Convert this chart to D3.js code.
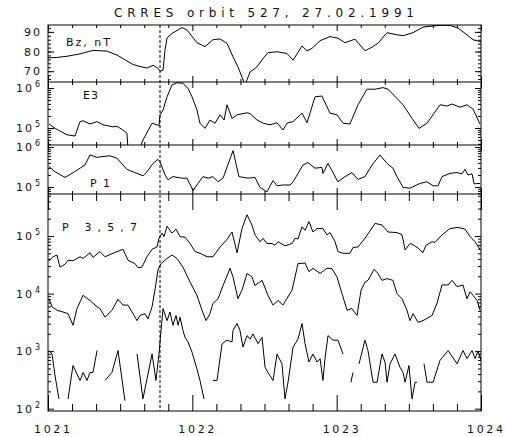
<!DOCTYPE html>
<html>
<head>
<meta charset="utf-8">
<script src="https://cdn.jsdelivr.net/npm/d3@7"></script>
<style>
body { margin: 0; background: #fff; }
text { font-family: "DejaVu Sans", sans-serif; fill: #111; }
</style>
</head>
<body>
<svg id="chart" width="507" height="437"></svg>
<script>
var titleText = "CRRES orbit 527, 27.02.1991";
var xTickLabels = [1021, 1022, 1023, 1024];
var bzTickLabels = [70, 80, 90];
var eventTime = 1021.776;

// Bz, nT
var bzTime = [1021.000, 1021.062, 1021.132, 1021.222, 1021.312, 1021.409, 1021.478, 1021.533, 1021.589, 1021.637,
    1021.686, 1021.728, 1021.762, 1021.776, 1021.797, 1021.811, 1021.825, 1021.866, 1021.928, 1021.963,
    1022.032, 1022.088, 1022.143, 1022.192, 1022.240, 1022.282, 1022.316, 1022.365, 1022.400, 1022.448,
    1022.490, 1022.524, 1022.587, 1022.656, 1022.698, 1022.760, 1022.795, 1022.829, 1022.885, 1022.954,
    1023.009, 1023.058, 1023.127, 1023.196, 1023.245, 1023.286, 1023.349, 1023.418, 1023.460, 1023.529,
    1023.598, 1023.668, 1023.716, 1023.785, 1023.841, 1023.903, 1023.945, 1024.000];
var bzValue = [76.8, 77.0, 77.6, 78.8, 80.6, 80.2, 78.2, 75.8, 73.4, 72.4,
    71.6, 73.0, 71.5, 70.0, 70.5, 81.0, 87.0, 89.5, 92.2, 91.0,
    84.5, 82.5, 86.0, 86.4, 84.2, 77.3, 72.2, 63.0, 69.6, 72.2,
    76.5, 79.4, 79.9, 79.0, 75.6, 82.8, 80.4, 81.6, 85.5, 87.6,
    86.8, 84.5, 86.3, 80.4, 82.2, 84.2, 89.6, 88.5, 88.1, 89.6,
    92.4, 93.0, 93.3, 93.3, 91.9, 88.5, 86.0, 85.0];

// E3, log10 of flux
var e3Time = [1021.007, 1021.049, 1021.132, 1021.187, 1021.222, 1021.243, 1021.291, 1021.340, 1021.381, 1021.450,
    1021.478, 1021.520, 1021.547, 1021.554, 1021.637, 1021.658, 1021.721, 1021.755, 1021.769, 1021.776,
    1021.797, 1021.825, 1021.859, 1021.894, 1021.935, 1021.970, 1021.998, 1022.032, 1022.053, 1022.088,
    1022.122, 1022.157, 1022.192, 1022.220, 1022.240, 1022.275, 1022.310, 1022.379, 1022.400, 1022.448,
    1022.490, 1022.538, 1022.587, 1022.628, 1022.656, 1022.698, 1022.760, 1022.795, 1022.850, 1022.898,
    1022.954, 1023.002, 1023.044, 1023.092, 1023.148, 1023.210, 1023.266, 1023.321, 1023.356, 1023.460,
    1023.522, 1023.571, 1023.626, 1023.716, 1023.765, 1023.799, 1023.855, 1023.903, 1023.945, 1023.993];
var e3Log = [5.10, 4.99, 4.83, 4.80, 5.16, 5.18, 5.10, 5.16, 5.08, 5.03,
    5.04, 4.95, 4.87, 4.50, 4.50, 4.70, 5.12, 5.08, 5.05, 5.33,
    5.45, 5.78, 6.08, 6.13, 6.12, 5.99, 5.78, 5.45, 5.12, 4.99,
    5.20, 5.12, 5.33, 5.20, 5.58, 5.24, 5.33, 5.38, 5.36, 5.20,
    5.12, 5.08, 5.13, 4.95, 5.12, 5.16, 5.37, 5.13, 5.78, 5.80,
    5.37, 5.33, 5.12, 5.10, 5.58, 5.97, 5.97, 6.01, 5.97, 5.58,
    5.24, 4.99, 5.12, 5.58, 5.55, 5.60, 5.52, 5.58, 5.47, 5.10];

// P1, log10
var p1Time = [1021.007, 1021.049, 1021.118, 1021.166, 1021.222, 1021.256, 1021.291, 1021.340, 1021.374, 1021.430,
    1021.478, 1021.547, 1021.617, 1021.658, 1021.686, 1021.728, 1021.762, 1021.776, 1021.811, 1021.831,
    1021.866, 1021.928, 1021.963, 1022.005, 1022.039, 1022.074, 1022.109, 1022.143, 1022.178, 1022.213,
    1022.282, 1022.323, 1022.386, 1022.434, 1022.469, 1022.517, 1022.559, 1022.587, 1022.628, 1022.677,
    1022.698, 1022.767, 1022.801, 1022.850, 1022.898, 1022.905, 1022.940, 1023.009, 1023.058, 1023.106,
    1023.148, 1023.196, 1023.245, 1023.300, 1023.349, 1023.390, 1023.418, 1023.460, 1023.508, 1023.578,
    1023.626, 1023.668, 1023.702, 1023.730, 1023.785, 1023.834, 1023.869, 1023.889, 1023.910, 1023.938,
    1023.952, 1023.993];
var p1Log = [5.51, 5.38, 5.24, 5.34, 5.47, 5.55, 5.80, 5.74, 5.76, 5.78,
    5.72, 5.44, 5.34, 5.28, 5.38, 5.59, 5.69, 5.63, 5.30, 5.18,
    5.26, 5.22, 5.22, 4.91, 5.09, 5.26, 5.22, 5.26, 5.13, 5.22,
    5.91, 5.26, 5.22, 5.24, 4.99, 4.88, 5.16, 5.03, 5.05, 5.05,
    5.13, 5.55, 5.61, 5.47, 5.49, 5.34, 5.59, 5.13, 5.26, 5.36,
    5.19, 5.26, 5.55, 5.80, 5.59, 5.47, 5.26, 4.99, 4.97, 5.09,
    5.13, 5.03, 5.03, 5.26, 5.34, 5.36, 5.33, 5.44, 5.30, 5.33,
    5.08, 5.09];

// P3, log10
var p3Time = [1021.007, 1021.035, 1021.062, 1021.083, 1021.118, 1021.139, 1021.173, 1021.222, 1021.243, 1021.291,
    1021.312, 1021.360, 1021.395, 1021.450, 1021.520, 1021.554, 1021.603, 1021.624, 1021.651, 1021.686,
    1021.721, 1021.755, 1021.769, 1021.790, 1021.804, 1021.825, 1021.859, 1021.887, 1021.915, 1021.949,
    1021.984, 1022.019, 1022.053, 1022.102, 1022.143, 1022.192, 1022.240, 1022.275, 1022.310, 1022.344,
    1022.379, 1022.413, 1022.434, 1022.469, 1022.490, 1022.517, 1022.552, 1022.573, 1022.594, 1022.642,
    1022.691, 1022.711, 1022.732, 1022.760, 1022.781, 1022.808, 1022.836, 1022.864, 1022.905, 1022.933,
    1022.954, 1022.989, 1023.009, 1023.044, 1023.092, 1023.113, 1023.148, 1023.196, 1023.266, 1023.314,
    1023.356, 1023.418, 1023.453, 1023.474, 1023.508, 1023.529, 1023.564, 1023.598, 1023.619, 1023.661,
    1023.681, 1023.730, 1023.785, 1023.841, 1023.889, 1023.924, 1023.959, 1023.993];
var p3Log = [4.57, 4.64, 4.67, 4.46, 4.51, 4.58, 4.57, 4.64, 4.61, 4.71,
    4.63, 4.73, 4.64, 4.70, 4.77, 4.58, 4.52, 4.45, 4.46, 4.64,
    4.77, 4.81, 4.96, 5.05, 4.99, 5.17, 5.05, 5.12, 4.99, 4.98,
    4.87, 4.73, 4.70, 4.64, 4.64, 4.81, 4.94, 5.07, 4.71, 5.13,
    5.37, 5.19, 5.02, 4.90, 4.96, 4.87, 4.87, 4.84, 4.90, 4.83,
    4.87, 4.96, 4.95, 5.16, 5.10, 5.25, 5.07, 5.13, 5.13, 5.02,
    5.06, 4.90, 4.73, 4.70, 4.70, 4.80, 4.81, 4.96, 5.22, 5.19,
    5.07, 5.06, 5.02, 4.76, 4.87, 4.85, 4.79, 4.71, 4.84, 4.90,
    4.89, 5.02, 5.13, 5.15, 5.12, 4.99, 4.90, 4.77];

// P5, log10
var p5Time = [1021.007, 1021.028, 1021.062, 1021.104, 1021.139, 1021.173, 1021.201, 1021.243, 1021.291, 1021.340,
    1021.360, 1021.395, 1021.443, 1021.485, 1021.520, 1021.554, 1021.582, 1021.617, 1021.637, 1021.672,
    1021.693, 1021.721, 1021.741, 1021.762, 1021.783, 1021.825, 1021.859, 1021.894, 1021.935, 1021.984,
    1022.032, 1022.067, 1022.095, 1022.122, 1022.143, 1022.178, 1022.213, 1022.261, 1022.282, 1022.316,
    1022.344, 1022.379, 1022.413, 1022.434, 1022.483, 1022.524, 1022.559, 1022.594, 1022.628, 1022.691,
    1022.725, 1022.732, 1022.781, 1022.808, 1022.836, 1022.885, 1022.933, 1022.968, 1023.002, 1023.037,
    1023.072, 1023.106, 1023.141, 1023.169, 1023.196, 1023.217, 1023.259, 1023.286, 1023.314, 1023.349,
    1023.390, 1023.418, 1023.453, 1023.487, 1023.508, 1023.529, 1023.564, 1023.598, 1023.661, 1023.695,
    1023.730, 1023.772, 1023.799, 1023.834, 1023.875, 1023.903, 1023.924, 1023.945, 1023.973, 1023.993];
var p5Log = [3.91, 3.77, 3.71, 3.68, 3.65, 3.45, 3.74, 3.97, 3.88, 3.77,
    3.74, 3.59, 3.71, 3.90, 3.80, 3.80, 3.68, 3.53, 3.62, 3.65,
    3.56, 3.77, 4.06, 4.41, 4.52, 4.61, 4.67, 4.61, 4.46, 4.20,
    3.97, 3.71, 3.53, 3.65, 3.83, 3.91, 4.14, 4.44, 4.29, 3.91,
    4.06, 4.35, 4.29, 4.14, 4.23, 3.97, 3.80, 3.88, 3.80, 4.06,
    4.44, 4.52, 4.53, 4.38, 4.44, 4.35, 4.44, 4.43, 4.29, 4.00,
    3.71, 3.74, 3.62, 4.06, 4.20, 4.23, 4.42, 4.35, 4.23, 4.26,
    4.23, 4.00, 3.91, 3.71, 3.53, 3.65, 3.50, 3.53, 3.62, 3.83,
    4.15, 4.15, 4.23, 4.12, 4.15, 3.91, 4.03, 3.97, 3.88, 3.71];

// P7, log10 (null = no data, line breaks there)
var p7Time = [1021.007, 1021.028, 1021.049, 1021.076, 1021.100,
    1021.139, 1021.173, 1021.222, 1021.243, 1021.270, 1021.291, 1021.312, 1021.340, 1021.370,
    1021.395, 1021.443, 1021.485, 1021.533, 1021.580,
    1021.617, 1021.658, 1021.686, 1021.721, 1021.748, 1021.769, 1021.783, 1021.797, 1021.825, 1021.845,
    1021.866, 1021.887, 1021.901, 1021.915, 1021.935, 1021.949, 1021.970, 1021.998, 1022.032, 1022.053,
    1022.081, 1022.110,
    1022.143, 1022.171, 1022.206, 1022.240, 1022.275, 1022.282, 1022.310, 1022.330, 1022.351, 1022.379,
    1022.400, 1022.420, 1022.455, 1022.483, 1022.504, 1022.524, 1022.559, 1022.587, 1022.621, 1022.642,
    1022.663, 1022.698, 1022.732, 1022.760, 1022.781, 1022.808, 1022.836, 1022.864, 1022.885, 1022.905,
    1022.919, 1022.940, 1022.975, 1023.009, 1023.044, 1023.070,
    1023.099, 1023.113, 1023.130,
    1023.155, 1023.196, 1023.217, 1023.252, 1023.280, 1023.314, 1023.335, 1023.349, 1023.370, 1023.404,
    1023.439, 1023.460, 1023.474, 1023.501, 1023.522, 1023.543, 1023.557, 1023.580,
    1023.605, 1023.626, 1023.668, 1023.716, 1023.772, 1023.834, 1023.875, 1023.903, 1023.938, 1023.959,
    1023.979, 1024.000];
var p7Log = [3.01, 2.95, 2.57, 2.17, null,
    2.17, 2.75, 2.49, 2.63, 2.49, 2.63, 2.63, 3.01, null,
    2.49, 2.63, 3.01, 2.14, null,
    2.95, 2.17, 2.52, 2.95, 2.49, 2.95, 3.36, 3.74, 3.53, 3.68,
    3.45, 3.62, 3.45, 3.59, 3.36, 3.24, 3.16, 2.98, 2.69, 2.49,
    2.17, null,
    2.49, 2.49, 3.13, 3.19, 3.16, 3.36, 3.48, 3.36, 3.07, 3.27,
    3.21, 3.30, 3.13, 3.24, 2.72, 2.63, 2.49, 2.95, 2.78, 2.17,
    2.46, 3.07, 3.21, 3.48, 3.13, 2.81, 2.95, 2.81, 2.87, 2.49,
    2.87, 3.27, 3.19, 3.19, 2.95, null,
    2.46, 2.63, null,
    2.78, 3.19, 3.01, 2.46, 2.46, 2.95, 2.81, 2.46, 2.78, 2.95,
    2.72, 2.63, 2.46, 2.75, 2.17, 2.46, 2.46, null,
    2.78, 2.46, 2.46, 2.84, 3.01, 2.78, 3.01, 2.87, 3.01, 2.87,
    3.00, 2.84];

function zip(t, v) {
    return t.map(function (d, i) { return [d, v[i]]; });
}

var svg = d3.select("#chart");
var x = d3.scaleLinear().domain([1021, 1024]).range([48, 481]);

var panels = [
    {top: 25, bottom: 82, log: false, y: d3.scaleLinear().domain([64.5, 93.5]),
        series: [zip(bzTime, bzValue)], major: bzTickLabels, minor: d3.range(66, 94, 2),
        name: "Bz, nT", nameX: 66, nameY: 46, nameW: 44, xTick: [3, 6]},
    {top: 82, bottom: 145, log: true, y: d3.scaleLog().domain([Math.pow(10, 4.575), Math.pow(10, 6.15)]),
        series: [zip(e3Time, e3Log)], exps: [5, 6],
        name: "E3", nameX: 83, nameY: 99, nameW: 15, xTick: [3, 6]},
    {top: 145, bottom: 194, log: true, y: d3.scaleLog().domain([Math.pow(10, 4.825), Math.pow(10, 6.05)]),
        series: [zip(p1Time, p1Log)], exps: [5, 6],
        name: "P1", nameX: 90, nameY: 187, nameW: 20, xTick: [3, 6]},
    {top: 194, bottom: 411, log: true, y: d3.scaleLog().domain([Math.pow(10, 1.96), Math.pow(10, 5.73)]),
        series: [zip(p3Time, p3Log), zip(p5Time, p5Log), zip(p7Time, p7Log)], exps: [2, 3, 4, 5],
        name: "P 3,5,7", nameX: 62, nameY: 231, nameW: 75, xTick: [7, 16]}
];

var xMinor = d3.range(0, 19).map(function (k) { return 1021 + k / 6; })
    .filter(function (d) { return Math.abs(d - Math.round(d)) > 1e-6; });

panels.forEach(function (p, i) {
    p.y.range([p.bottom, p.top]);
    if (p.log) {
        p.major = p.exps.map(function (e) { return Math.pow(10, e); });
        var dom = p.y.domain();
        p.minor = [];
        for (var e = Math.floor(Math.log10(dom[0])); e <= Math.ceil(Math.log10(dom[1])); e++) {
            for (var m = 2; m <= 9; m++) {
                var v = m * Math.pow(10, e);
                if (v >= dom[0] && v <= dom[1]) p.minor.push(v);
            }
        }
    }

    svg.append("clipPath").attr("id", "clip" + i)
        .append("rect")
        .attr("x", 48).attr("y", p.top)
        .attr("width", 433).attr("height", p.bottom - p.top);

    var line = d3.line()
        .defined(function (d) { return d[1] != null; })
        .x(function (d) { return x(d[0]); })
        .y(function (d) { return p.y(p.log ? Math.pow(10, d[1]) : d[1]); });

    svg.append("g").attr("clip-path", "url(#clip" + i + ")")
        .selectAll("path")
        .data(p.series)
        .enter().append("path")
        .attr("d", line)
        .style("fill", "none")
        .style("stroke", "#000")
        .style("stroke-width", 1);

    // y ticks, inward on both sides
    [[48, d3.axisRight], [481, d3.axisLeft]].forEach(function (side) {
        [[p.major, 6], [p.minor, 3]].forEach(function (t) {
            var g = svg.append("g")
                .attr("transform", "translate(" + side[0] + ",0)")
                .call(side[1](p.y).tickValues(t[0]).tickSize(t[1]).tickFormat(""));
            g.select(".domain").remove();
        });
    });

    // x ticks at top (pointing down) and bottom (pointing up)
    [[p.top, d3.axisBottom], [p.bottom, d3.axisTop]].forEach(function (side) {
        [[xTickLabels, p.xTick[1]], [xMinor, p.xTick[0]]].forEach(function (t) {
            var g = svg.append("g")
                .attr("transform", "translate(0," + side[0] + ")")
                .call(side[1](x).tickValues(t[0]).tickSize(t[1]).tickFormat(""));
            g.select(".domain").remove();
        });
    });

    // y labels
    var lab = svg.append("g").selectAll("text")
        .data(p.major)
        .enter().append("text")
        .attr("x", 40)
        .attr("y", function (d) { return p.y(d) + 4; })
        .attr("text-anchor", "end")
        .style("font-size", "11px");
    if (p.log) {
        lab.append("tspan")
            .attr("textLength", 16)
            .text("10");
        lab.append("tspan")
            .attr("dx", 1)
            .attr("dy", -5)
            .style("font-size", "8px")
            .text(function (d) { return Math.round(Math.log10(d)); });
    } else {
        lab.attr("textLength", 16).text(function (d) { return d; });
    }

    svg.append("text")
        .attr("x", p.nameX)
        .attr("y", p.nameY)
        .attr("textLength", p.nameW)
        .style("font-size", "11px")
        .text(p.name);
});

// frame
svg.append("rect")
    .attr("x", 48).attr("y", 25)
    .attr("width", 433).attr("height", 386)
    .style("fill", "none").style("stroke", "#000");
panels.slice(1).forEach(function (p) {
    svg.append("line")
        .attr("x1", 48).attr("x2", 481)
        .attr("y1", p.top).attr("y2", p.top)
        .style("stroke", "#000");
});

// event marker
svg.append("line")
    .attr("x1", x(eventTime)).attr("x2", x(eventTime))
    .attr("y1", 25).attr("y2", 411)
    .style("stroke", "#000")
    .style("stroke-dasharray", "3,2");

// x labels
svg.append("g").selectAll("text")
    .data(xTickLabels)
    .enter().append("text")
    .attr("x", function (d) { return x(d) + 4; })
    .attr("y", 433)
    .attr("text-anchor", "middle")
    .attr("textLength", 36)
    .style("font-size", "11px")
    .text(function (d) { return d; });

svg.append("text")
    .attr("x", 264)
    .attr("y", 17)
    .attr("text-anchor", "middle")
    .attr("textLength", 300)
    .style("font-size", "12px")
    .text(titleText);
</script>
</body>
</html>
